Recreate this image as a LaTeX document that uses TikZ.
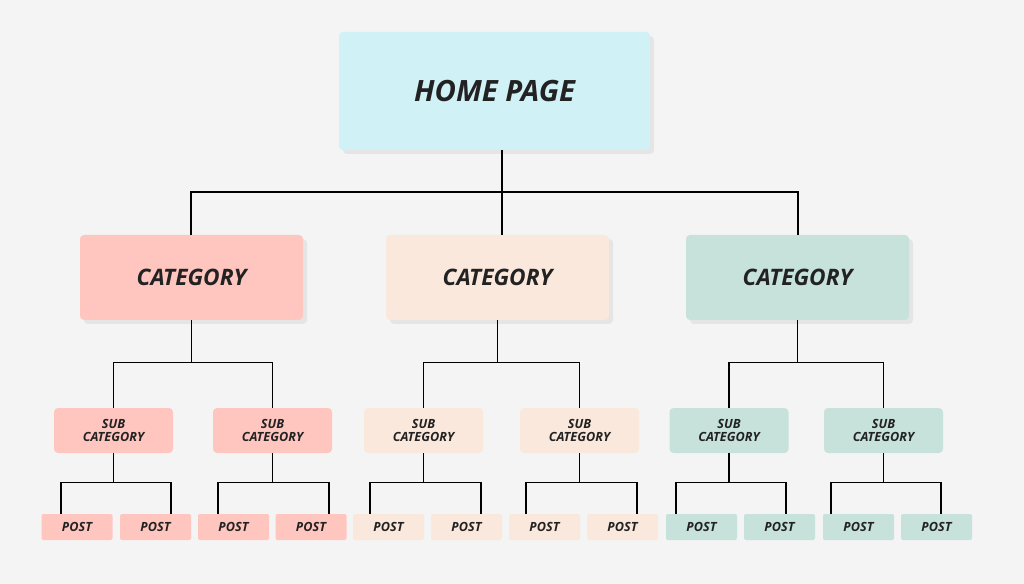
\documentclass[tikz,border=0pt]{standalone}
\usepackage{fontspec}
\setmainfont{Open Sans}
\definecolor{bg}{HTML}{F4F4F4}
\definecolor{cy}{HTML}{D0F1F6}
\definecolor{pk}{HTML}{FFC6C0}
\definecolor{pc}{HTML}{FBE8DC}
\definecolor{tl}{HTML}{C6E2DB}
\definecolor{tx}{HTML}{222222}
\begin{document}
\begin{tikzpicture}[x=0.75pt,y=-0.75pt,
 box/.style={rounded corners=3pt,inner sep=0pt,text=tx,font=\bfseries\itshape,align=center,
   drop shadow/.style={}},
 home/.style={box,fill=cy,minimum width=233.25pt,minimum height=88.5pt,font=\fontsize{22}{24}\selectfont\bfseries\itshape},
 cat/.style={box,minimum width=167.25pt,minimum height=63.75pt,font=\fontsize{17}{19}\selectfont\bfseries\itshape},
 sub/.style={box,minimum width=89.25pt,minimum height=33.75pt,font=\fontsize{9.5}{9.5}\selectfont\bfseries\itshape},
 post/.style={box,rounded corners=1.5pt,minimum width=53.25pt,minimum height=19.5pt,font=\fontsize{9.5}{10}\selectfont\bfseries\itshape},
 ln/.style={draw=black,line width=0.9pt}]
\fill[bg] (0,0) rectangle (1024,584);
\fill[black!10,rounded corners=3pt] (343,36) rectangle (654,154);
\node[home] (h) at (494.5,91) {HOME PAGE};
\foreach \n/\x/\c in {c1/191.5/pk,c2/497.5/pc,c3/797.5/tl}{
 \fill[black!10,rounded corners=3pt] (\x-107.5,239) rectangle (\x+115.5,324);
 \node[cat,fill=\c] (\n) at (\x,277.5) {CATEGORY};}
\foreach \n/\x/\c in {s1/113.5/pk,s2/272.5/pk,s3/423.5/pc,s4/579.5/pc,s5/729/tl,s6/883.5/tl}{
 \node[sub,fill=\c] (\n) at (\x,430.5) {SUB\\CATEGORY};}
\foreach \n/\x/\c in {p1/77/pk,p2/155.5/pk,p3/233.5/pk,p4/311/pk,p5/388.5/pc,p6/466.5/pc,p7/544.5/pc,p8/622.5/pc,p9/701.5/tl,p10/779.5/tl,p11/858.5/tl,p12/936.5/tl}{
 \node[post,fill=\c] (\n) at (\x,527) {POST};}
% home to categories
\coordinate (hj) at (502,192);
\draw[ln] (502,150) -- (hj);
\draw[ln] (191,235) |- (hj) -| (798,235);
\draw[ln] (hj) -- (502,235);
% categories to subs
\foreach \c/\a/\b in {c1/s1/s2,c2/s3/s4,c3/s5/s6}{
 \draw[ln] (\c.south) -- ++(0,42) coordinate (j);
 \draw[ln] (\a.north) |- (j) -| (\b.north);}
% subs to posts
\foreach \s/\a/\b/\xa/\xb in {s1/p1/p2/61/171,s2/p3/p4/218/329,s3/p5/p6/370/481,s4/p7/p8/526/637,s5/p9/p10/676/786,s6/p11/p12/831/941}{
 \draw[ln] (\s.south) -- ++(0,29.5) coordinate (j);
 \draw[ln] (\xa,514) |- (j) -| (\xb,514);}
\end{tikzpicture}
\end{document}
